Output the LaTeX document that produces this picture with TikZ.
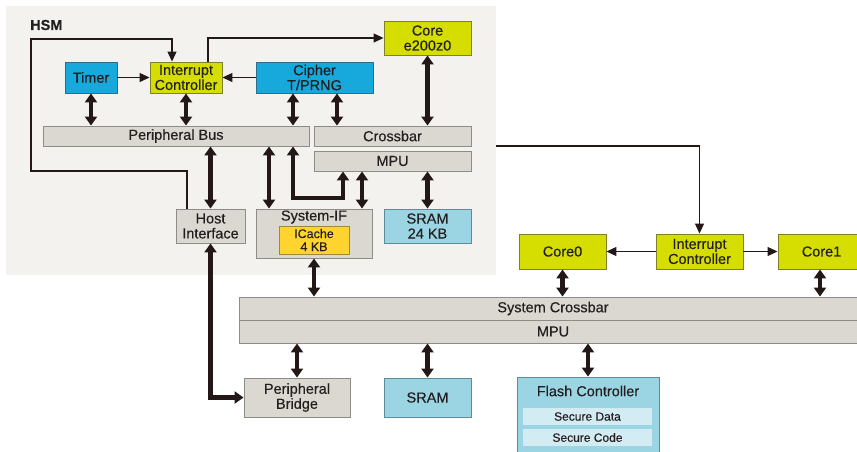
\documentclass[tikz,border=0pt]{standalone}
\usepackage{fontspec}
\setmainfont{Liberation Sans}[FakeBold=0.35]
\usetikzlibrary{arrows.meta}

\definecolor{hsmbg}{HTML}{F3F2EF}
\definecolor{boxgray}{HTML}{DBD7D1}
\definecolor{edgegray}{HTML}{8E8C89}
\definecolor{cyanfill}{HTML}{17A9DC}
\definecolor{cyanedge}{HTML}{2A6F8C}
\definecolor{limefill}{HTML}{D5DE00}
\definecolor{limeedge}{HTML}{7E8128}
\definecolor{icachefill}{HTML}{FFD42F}
\definecolor{icacheedge}{HTML}{9C8A3A}
\definecolor{sramfill}{HTML}{9BD5E4}
\definecolor{sramedge}{HTML}{5F8C99}
\definecolor{securefill}{HTML}{D3ECF3}
\definecolor{ink}{HTML}{231815}
\definecolor{txt}{HTML}{231F20}

\tikzset{
  blk/.style={draw, line width=0.9pt, inner sep=0pt, align=center, text=txt,
              font=\fontsize{14.5}{15}\selectfont},
  grayblk/.style={blk, fill=boxgray, draw=edgegray},
  cyanblk/.style={blk, fill=cyanfill, draw=cyanedge},
  limeblk/.style={blk, fill=limefill, draw=limeedge},
  sramblk/.style={blk, fill=sramfill, draw=sramedge},
  cacheblk/.style={blk, fill=icachefill, draw=icacheedge, font=\fontsize{12.5}{13}\selectfont},
  secblk/.style={inner sep=0pt, fill=securefill, text=txt, font=\fontsize{12}{12}\selectfont},
  sz/.style 2 args={minimum width=#1pt, minimum height=#2pt},
  bus/.style={ink, line width=4.5pt,
              {Triangle[width=12pt,length=9pt]}-{Triangle[width=12pt,length=9pt]}},
  sig/.style={ink, line width=1.2pt, -{Triangle[width=9pt,length=10pt]}},
  wire/.style={ink, line width=1.2pt}
}

\begin{document}
\begin{tikzpicture}[x=1pt, y=-1pt]
  \useasboundingbox (0,0) rectangle (857,451);
  \clip (0,0) rectangle (857,451);

  % HSM subsystem background
  \node[fill=hsmbg, inner sep=0pt, sz={490}{269}] (hsm) at (251,140) {};
  \node[anchor=west, inner sep=0pt, text=txt, font=\fontsize{14.5}{15}\selectfont\bfseries]
    (hsmlabel) at (30,25) {HSM};

  % HSM blocks
  \node[cyanblk, sz={52}{31}]  (timer)  at (91,77.5)    {Timer};
  \node[limeblk, sz={72}{31}]  (hintc)  at (186,77.5)   {Interrupt\\Controller};
  \node[cyanblk, sz={117}{31}] (cipher) at (314.5,77.5) {Cipher\\T/PRNG};
  \node[limeblk, sz={87}{34}]  (hcore)  at (427.5,38)   {Core\\e200z0};
  \node[grayblk, sz={266}{20}] (pbus)   at (176,136)    {Peripheral Bus};
  \node[grayblk, sz={157}{20}] (hxbar)  at (392.5,136)  {Crossbar};
  \node[grayblk, sz={157}{20}] (hmpu)   at (392.5,161)  {MPU};
  \node[grayblk, sz={69}{34}]  (host)   at (210.5,226)  {Host\\Interface};
  \node[grayblk, sz={116}{49}] (sysif)  at (314,233.5)  {};
  \node[anchor=center, inner sep=0pt, text=txt, font=\fontsize{14.5}{15}\selectfont]
    (sysiflabel) at (314,217) {System-IF};
  \node[cacheblk, sz={70}{28}] (icache) at (314,240)    {ICache\\4 KB};
  \node[sramblk, sz={87}{34}]  (hsram)  at (427.5,226)  {SRAM\\24 KB};

  % main system blocks
  \node[limeblk, sz={87}{35}]  (core0)  at (562.5,251.5) {Core0};
  \node[limeblk, sz={87}{35}]  (mintc)  at (699.5,251.5) {Interrupt\\Controller};
  \node[limeblk, sz={87}{35}]  (core1)  at (821.5,251.5) {Core1};
  \node[grayblk, sz={628}{23}] (sxbar)  at (553,308.5)   {System Crossbar};
  \node[grayblk, sz={628}{23}] (smpu)   at (553,331.5)   {MPU};
  \node[grayblk, sz={106}{39}] (bridge) at (297,397.5)   {Peripheral\\Bridge};
  \node[sramblk, sz={87}{39}]  (sram)   at (427.5,397.5) {SRAM};
  \node[sramblk, sz={142}{80}] (flash)  at (588,417)     {};
  \node[anchor=center, inner sep=0pt, text=txt, font=\fontsize{14.5}{15}\selectfont]
    (flashlabel) at (588,391) {Flash Controller};
  \node[secblk, sz={129}{17}]  (sdata)  at (587.5,416.5) {Secure Data};
  \node[secblk, sz={129}{17}]  (scode)  at (587.5,437.5) {Secure Code};

  % interrupt signals inside the HSM
  \draw[sig] (timer.east) -- (hintc.west);
  \draw[sig] (cipher.west) -- (hintc.east);
  \draw[sig] (hintc.north -| 208,0) |- (hcore.west);
  \draw[sig] (host.north -| 187,0) |- (31,171) |- (172,39) -- (hintc.north -| 172,0);

  % interrupt from the HSM to the main interrupt controller
  \draw[sig] (hsm.east |- 0,146) -| (mintc.north);
  \draw[sig] (mintc.west) -- (core0.east);
  \draw[sig] (mintc.east) -- (core1.west);

  % HSM buses
  \draw[bus] (timer.south) -- (pbus.north -| timer.south);
  \draw[bus] (hintc.south) -- (pbus.north -| hintc.south);
  \draw[bus] (cipher.south -| 293,0) -- (pbus.north -| 293,0);
  \draw[bus] (cipher.south -| 337,0) -- (hxbar.north -| 337,0);
  \draw[bus] (hcore.south) -- (hxbar.north -| hcore.south);
  \draw[bus] (pbus.south -| host.north) -- (host.north);
  \draw[bus] (pbus.south -| 269,0) -- (sysif.north -| 269,0);
  \draw[bus] (pbus.south -| 293,0) |- (343,198) -- (hmpu.south -| 343,0);
  \draw[bus] (hmpu.south -| 362,0) -- (sysif.north -| 362,0);
  \draw[bus] (hmpu.south -| hsram.north) -- (hsram.north);

  % system buses
  \draw[bus] (sysif.south) -- (sxbar.north -| sysif.south);
  \draw[bus] (host.south) |- (bridge.west);
  \draw[bus] (core0.south) -- (sxbar.north -| core0.south);
  \draw[bus] (core1.south -| 820,0) -- (sxbar.north -| 820,0);
  \draw[bus] (smpu.south -| bridge.north) -- (bridge.north);
  \draw[bus] (smpu.south -| sram.north) -- (sram.north);
  \draw[bus] (smpu.south -| flash.north) -- (flash.north);
\end{tikzpicture}
\end{document}
